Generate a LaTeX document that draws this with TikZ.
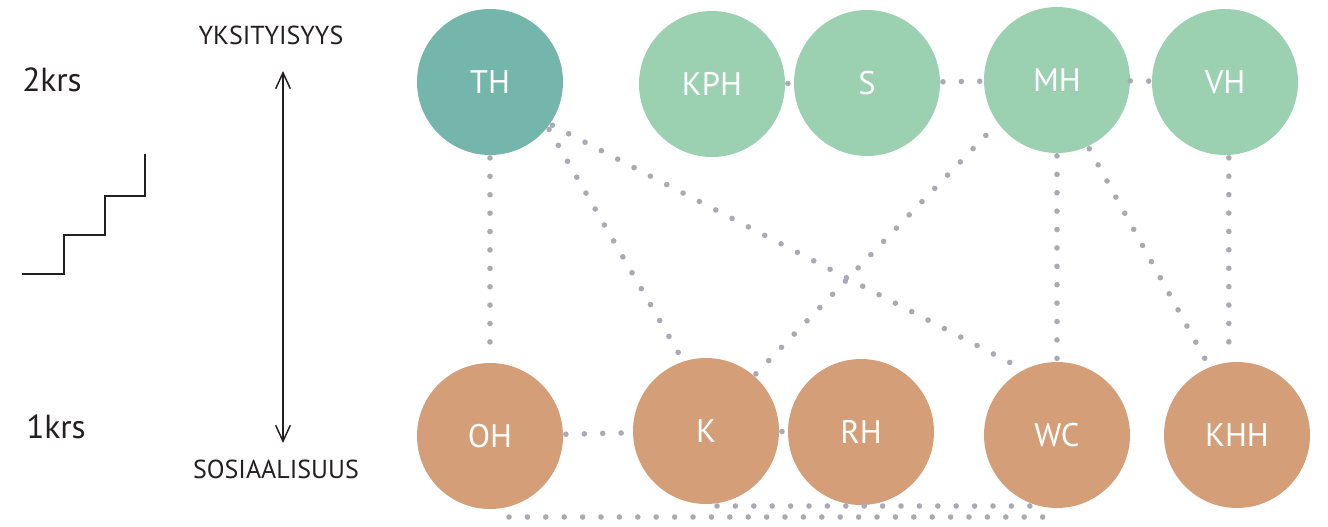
\documentclass[tikz,border=0pt]{standalone}
\usepackage{fontspec}
\setmainfont{PT Sans}
\usetikzlibrary{arrows.meta,calc}
\definecolor{tealroom}{RGB}{116,181,172}
\definecolor{greenroom}{RGB}{155,209,176}
\definecolor{orangeroom}{RGB}{212,158,120}
\definecolor{dotgrey}{RGB}{170,170,178}
\definecolor{ink}{RGB}{35,31,32}
\begin{document}
\begin{tikzpicture}[x=0.75pt,y=-0.75pt,
  room/.style={circle, inner sep=0pt, minimum size=109.5pt, text=white,
    font=\fontsize{24.5}{24.5}\selectfont},
  toproom/.style={room, fill=greenroom},
  baseroom/.style={room, fill=orangeroom},
  link/.style={draw=dotgrey, line width=4.2pt, line cap=round,
    dash pattern=on 0pt off 13.8pt, shorten <=2pt, shorten >=2pt},
  caption/.style={text=ink, inner sep=0pt, font=\fontsize{19.5}{19.5}\selectfont},
  floor/.style={text=ink, inner sep=0pt, anchor=west, font=\fontsize{25}{25}\selectfont}]
\useasboundingbox (0,0) rectangle (1328,526);

% floor labels and stair symbol
\node[floor] (f2) at (22,80) {2krs};
\node[floor] (f1) at (26,427) {1krs};
\draw[ink, line width=1.3pt] (22,274) -- (64,274) -- (64,235) -- (105,235)
  -- (105,196) -- (145,196) -- (145,154);

% privacy / sociality axis
\node[caption] (priv) at (271,35) {YKSITYISYYS};
\node[caption] (soc) at (276,469) {SOSIAALISUUS};
\coordinate (axtop) at (283,71);
\coordinate (axbot) at (283,443);
\draw[ink, line width=1.1pt, {Straight Barb[length=12pt,width=11pt]}-{Straight Barb[length=12pt,width=11pt]}]
  (axtop) -- (axbot);

% rooms, upper floor
\node[room, fill=tealroom] (TH) at (490,82) {TH};
\node[toproom] (KPH) at (712,84) {KPH};
\node[toproom] (S) at (867,83) {S};
\node[toproom] (MH) at (1057,80) {MH};
\node[toproom] (VH) at (1225,82) {VH};

% rooms, lower floor
\node[baseroom] (OH) at (490,436) {OH};
\node[baseroom] (K) at (706,431) {K};
\node[baseroom] (RH) at (861,432) {RH};
\node[baseroom] (WC) at (1057,435) {WC};
\node[baseroom] (KHH) at (1237,435) {KHH};

% connections on the same floor
\draw[link] (KPH) -- (S);
\draw[link] (S) -- (MH);
\draw[link, shorten <=0pt, shorten >=0pt] (MH) -- (VH);
\draw[link] (OH) -- (K);
\draw[link] (K) -- (RH);

% connections between floors
\draw[link] (TH) -- (OH);
\draw[link] (TH.-38) -- (K.108);
\draw[link] (TH.-35) -- (WC.117);
\draw[link] (K.49) -- (MH.216);
\draw[link] (MH) -- (WC);
\draw[link] (MH.-65) -- (KHH.112);
\draw[link] (VH.-87) -- (VH.-87 |- KHH.north);

% connections running below the lower floor
\coordinate (lowA) at (509,517);
\coordinate (lowB) at (1043,517);
\coordinate (upA) at (717,506);
\coordinate (upB) at (1046,506);
\draw[link, shorten <=0pt, shorten >=0pt] (lowA) -- (lowB);
\draw[link, shorten <=0pt, shorten >=0pt] (upA) -- (upB);
\end{tikzpicture}
\end{document}
